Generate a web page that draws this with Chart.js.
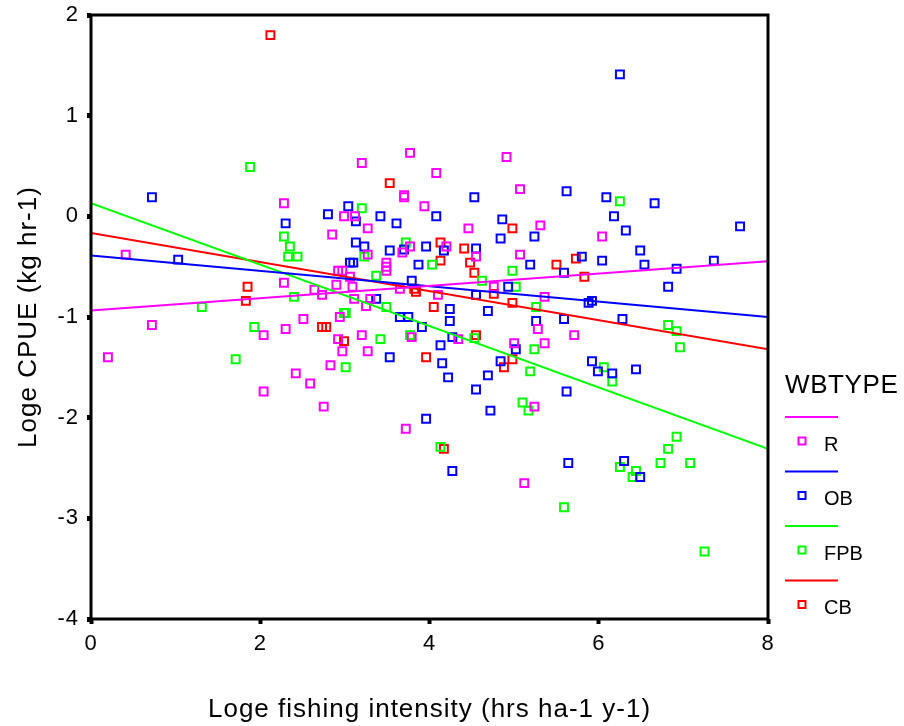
<!DOCTYPE html>
<html>
<head>
<meta charset="utf-8">
<script src="https://cdn.jsdelivr.net/npm/chart.js@4.4.1/dist/chart.umd.min.js"></script>
<style>
  body { margin: 0; background: #fff; }
  #wrap { width: 904px; height: 726px; }
</style>
</head>
<body>
<div id="wrap"><canvas id="cpueChart" width="904" height="726"></canvas></div>
<script>
// Water body types
const groups = ['R', 'OB', 'FPB', 'CB'];
const groupColors = ['#ff00ff', '#0000ff', '#00ff00', '#ff0000'];

// Points [loge fishing intensity, loge CPUE]
const rPoints = [
  [2.28,0.13],[3.77,0.63],[3.20,0.53],[4.91,0.59],[4.08,0.43],[3.70,0.21],[3.70,0.19],[5.07,0.27],
  [3.94,0.10],[0.41,-0.38],[2.28,-0.66],[2.64,-0.73],[0.72,-1.08],[2.04,-1.18],[2.30,-1.12],[2.51,-1.02],
  [0.20,-1.40],[2.42,-1.56],[2.59,-1.66],[2.04,-1.74],[2.99,0.00],[3.12,0.00],[4.46,-0.12],[3.27,-0.12],
  [2.85,-0.18],[5.31,-0.09],[3.77,-0.30],[3.68,-0.36],[4.20,-0.30],[4.55,-0.40],[5.07,-0.38],[3.27,-0.38],
  [3.49,-0.46],[3.49,-0.50],[3.49,-0.54],[2.92,-0.54],[2.97,-0.54],[3.06,-0.60],[2.90,-0.68],[3.09,-0.70],
  [2.73,-0.78],[3.65,-0.72],[4.10,-0.78],[4.76,-0.70],[3.11,-0.82],[3.30,-0.82],[3.25,-0.89],[2.94,-1.00],
  [5.28,-1.12],[2.92,-1.22],[3.20,-1.18],[3.79,-1.20],[4.34,-1.22],[5.00,-1.26],[2.97,-1.34],[3.27,-1.34],
  [2.83,-1.48],[5.24,-1.89],[2.75,-1.89],[6.04,-0.20],[5.36,-0.80],[5.71,-1.18],[5.36,-1.26],[3.72,-2.11],
  [5.12,-2.65]
];
const obPoints = [
  [0.72,0.19],[4.53,0.19],[3.04,0.10],[6.25,1.41],[5.62,0.25],[6.09,0.19],[6.66,0.13],[2.30,-0.07],
  [1.03,-0.43],[2.80,0.02],[3.13,-0.05],[3.42,0.00],[3.61,-0.07],[4.08,0.00],[4.86,-0.03],[4.84,-0.22],
  [5.24,-0.20],[3.13,-0.26],[3.23,-0.30],[3.70,-0.33],[3.53,-0.34],[3.96,-0.30],[4.17,-0.34],[4.55,-0.32],
  [3.06,-0.46],[3.10,-0.46],[3.87,-0.48],[5.19,-0.48],[3.79,-0.64],[4.55,-0.78],[4.93,-0.70],[3.37,-0.82],
  [4.24,-0.92],[4.69,-0.94],[3.65,-1.00],[3.75,-1.00],[4.24,-1.04],[5.26,-1.04],[3.91,-1.10],[4.27,-1.20],
  [5.02,-1.32],[4.13,-1.28],[3.53,-1.40],[4.15,-1.46],[4.84,-1.44],[4.22,-1.60],[4.69,-1.58],[4.55,-1.72],
  [4.72,-1.93],[3.96,-2.01],[6.18,0.00],[7.67,-0.10],[6.32,-0.14],[6.49,-0.34],[5.80,-0.40],[6.04,-0.44],
  [6.54,-0.48],[7.36,-0.44],[6.92,-0.52],[5.59,-0.56],[6.82,-0.70],[5.88,-0.86],[5.92,-0.84],[5.59,-1.02],
  [6.28,-1.02],[5.92,-1.44],[5.99,-1.54],[6.16,-1.56],[6.44,-1.52],[5.62,-1.74],[4.27,-2.53],[5.64,-2.45],
  [6.30,-2.43],[6.49,-2.59]
];
const fpbPoints = [
  [1.88,0.49],[3.20,0.08],[6.25,0.15],[2.28,-0.20],[2.35,-0.30],[2.33,-0.40],[2.44,-0.40],[2.40,-0.80],
  [1.31,-0.90],[1.93,-1.10],[1.71,-1.42],[3.72,-0.26],[3.23,-0.40],[4.03,-0.48],[4.98,-0.54],[3.37,-0.59],
  [4.62,-0.64],[5.02,-0.70],[3.49,-0.90],[5.26,-0.90],[2.99,-0.96],[3.01,-0.96],[3.42,-1.22],[3.77,-1.18],
  [4.53,-1.21],[5.24,-1.32],[3.01,-1.50],[5.19,-1.54],[5.10,-1.85],[5.17,-1.93],[6.82,-1.08],[6.92,-1.14],
  [6.96,-1.30],[6.06,-1.50],[6.16,-1.64],[4.13,-2.29],[6.92,-2.19],[6.82,-2.31],[6.25,-2.49],[6.73,-2.45],
  [7.08,-2.45],[6.44,-2.53],[6.40,-2.59],[5.59,-2.89],[7.25,-3.33]
];
const cbPoints = [
  [2.12,1.80],[3.53,0.33],[1.85,-0.70],[1.83,-0.84],[4.98,-0.12],[4.13,-0.26],[4.41,-0.32],[4.13,-0.44],
  [4.48,-0.46],[4.53,-0.56],[3.82,-0.72],[3.84,-0.75],[4.76,-0.77],[4.98,-0.86],[4.05,-0.90],[2.73,-1.10],
  [2.78,-1.10],[2.99,-1.24],[4.55,-1.18],[3.96,-1.40],[4.98,-1.42],[4.88,-1.50],[5.50,-0.48],[5.73,-0.42],
  [5.83,-0.60],[4.17,-2.31]
];

// Fitted lines, end points at x = 0 and x = 8
const fitX = [0, 8];
const rFit = [-0.935, -0.445];
const obFit = [-0.39, -1.0];
const fpbFit = [0.13, -2.31];
const cbFit = [-0.165, -1.32];

const xTicks = [0, 2, 4, 6, 8];
const yTicks = [2, 1, 0, -1, -2, -3, -4];

const pointSets = [rPoints, obPoints, fpbPoints, cbPoints];
const fitSets = [rFit, obFit, fpbFit, cbFit];
const fontFamily = '"Liberation Sans", Arial, sans-serif';

const datasets = [];
fitSets.forEach(function(f, i) {
    datasets.push({
        type: 'line',
        label: groups[i] + ' fit',
        data: fitX.map(function(x, j) { return { x: x, y: f[j] }; }),
        borderColor: groupColors[i],
        borderWidth: 2,
        pointRadius: 0,
        fill: false,
        order: 0
    });
});
pointSets.forEach(function(pts, i) {
    datasets.push({
        type: 'scatter',
        label: groups[i],
        data: pts.map(function(p) { return { x: p[0], y: p[1] }; }),
        borderColor: groupColors[i],
        backgroundColor: 'rgba(0,0,0,0)',
        borderWidth: 2,
        pointStyle: 'rect',
        pointRadius: 5.6,
        order: 1
    });
});

// the original text is a bit wider than Arial, so spread it a little
const spacingPlugin = {
    id: 'spacing',
    beforeDraw: function(chart) {
        chart.ctx.letterSpacing = '1px';
    }
};

// Frame round the plot area plus the WBTYPE key
const framePlugin = {
    id: 'frame',
    afterDraw: function(chart) {
        const ctx = chart.ctx;
        const a = chart.chartArea;
        ctx.save();
        ctx.strokeStyle = '#000';
        ctx.lineWidth = 3;
        ctx.strokeRect(a.left, a.top, a.right - a.left, a.bottom - a.top);

        ctx.fillStyle = '#000';
        ctx.textBaseline = 'middle';
        ctx.letterSpacing = '0.6px';
        ctx.font = '26px ' + fontFamily;
        ctx.fillText('WBTYPE', 785, 386);
        ctx.letterSpacing = '0px';
        ctx.font = '20px ' + fontFamily;
        groups.forEach(function(g, i) {
            const y0 = 417 + i * 54.5;
            ctx.strokeStyle = groupColors[i];
            ctx.lineWidth = 2;
            ctx.beginPath();
            ctx.moveTo(785, y0);
            ctx.lineTo(838, y0);
            ctx.stroke();
            ctx.strokeRect(798.5, y0 + 20.5, 7, 7);
            ctx.fillStyle = '#000';
            ctx.fillText(g, 824, y0 + 28);
        });
        ctx.restore();
    }
};

const ctx = document.getElementById('cpueChart').getContext('2d');
const cpueChart = new Chart(ctx, {
    data: { datasets: datasets },
    options: {
        responsive: false,
        animation: false,
        devicePixelRatio: 1,
        layout: { padding: { top: 15, right: 136, left: 0, bottom: 0 } },
        plugins: {
            legend: { display: false },
            tooltip: { enabled: false }
        },
        scales: {
            x: {
                type: 'linear',
                min: 0,
                max: 8,
                afterBuildTicks: function(scale) {
                    scale.ticks = xTicks.map(function(v) { return { value: v }; });
                },
                afterFit: function(scale) {
                    scale.height = 107;
                    scale.paddingLeft = 0;
                    scale.paddingRight = 0;
                },
                ticks: {
                    color: '#000',
                    padding: 7,
                    font: { family: fontFamily, size: 22 }
                },
                grid: {
                    drawOnChartArea: false,
                    tickLength: 5,
                    tickWidth: 4,
                    color: '#000'
                },
                border: { display: false },
                title: {
                    display: true,
                    text: 'Loge fishing intensity (hrs ha-1 y-1)',
                    color: '#000',
                    font: { family: fontFamily, size: 26 },
                    padding: { top: 0, bottom: 1 }
                }
            },
            y: {
                type: 'linear',
                min: -4,
                max: 2,
                afterBuildTicks: function(scale) {
                    scale.ticks = yTicks.map(function(v) { return { value: v }; });
                },
                afterFit: function(scale) {
                    scale.width = 91;
                    scale.paddingTop = 0;
                    scale.paddingBottom = 0;
                },
                ticks: {
                    color: '#000',
                    padding: 8,
                    font: { family: fontFamily, size: 22 }
                },
                grid: {
                    drawOnChartArea: false,
                    tickLength: 4,
                    tickWidth: 5,
                    color: '#000'
                },
                border: { display: false },
                title: {
                    display: true,
                    text: 'Loge CPUE (kg hr-1)',
                    color: '#000',
                    font: { family: fontFamily, size: 26 },
                    padding: { top: 13, bottom: 0 }
                }
            }
        }
    },
    plugins: [spacingPlugin, framePlugin]
});
</script>
</body>
</html>
